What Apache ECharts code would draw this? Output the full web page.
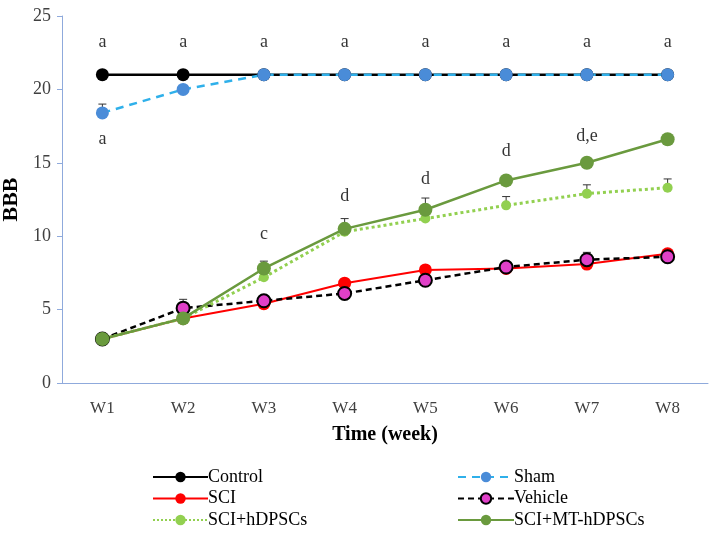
<!DOCTYPE html>
<html><head><meta charset="utf-8">
<script src="https://cdn.jsdelivr.net/npm/echarts@6/dist/echarts.min.js"></script>
<style>html,body{margin:0;padding:0;background:#fff}#c{width:712px;height:537px}</style>
</head><body><div id="c"></div>
<script>
const weeks = ['W1','W2','W3','W4','W5','W6','W7','W8'];
const control = [21,21,21,21,21,21,21,21];
const sham = [18.4,20.0,21,21,21,21,21,21];
const sci = [3,4.4,5.4,6.8,7.7,7.8,8.1,8.8];
const vehicle = [3,5.1,5.6,6.1,7.0,7.9,8.4,8.6];
const hdpsc = [3,4.4,7.2,10.3,11.2,12.1,12.9,13.3];
const mthdpsc = [3,4.4,7.8,10.5,11.8,13.8,15.0,16.6];
const shamErr = [0.6,0,0,0,0,0,0,0];
const sciErr = [0,0,0,0,0,0,0,0.3];
const vehicleErr = [0,0.6,0.3,0,0,0,0.5,0.3];
const hdpscErr = [0,0,0,0,0,0.6,0.6,0.6];
const mthdpscErr = [0,0,0.5,0.7,0.8,0,0,0];
const topLetters = ['a','a','a','a','a','a','a','a'];
const topLetterY = [23.2,23.2,23.2,23.2,23.2,23.2,23.2,23.2];
const shamLetter = ['a'];
const shamLetterY = [16.6];
const groupLetters = ['c','d','d','d','d,e'];
const groupLetterIdx = [2,3,4,5,6];
const groupLetterY = [10.1,12.7,13.9,15.8,16.8];

const serif = '"Liberation Serif","Times New Roman",serif';
const chart = echarts.init(document.getElementById('c'));

function errSeries(vals, errs, color){
  const data = [];
  vals.forEach((v,i)=>{ if(errs[i]>0) data.push([i, v, v+errs[i]]); });
  return {
    type:'custom', silent:true, z:1, data,
    renderItem:(params, api)=>{
      const p0 = api.coord([api.value(0), api.value(1)]);
      const p1 = api.coord([api.value(0), api.value(2)]);
      return {type:'group', children:[
        {type:'line', shape:{x1:p0[0],y1:p0[1],x2:p1[0],y2:p1[1]}, style:{stroke:color,lineWidth:1}},
        {type:'line', shape:{x1:p1[0]-4,y1:p1[1],x2:p1[0]+4,y2:p1[1]}, style:{stroke:color,lineWidth:1}}
      ]};
    }
  };
}

function lineS(name, data, color, type, markerColor, markerBorder, size, width){
  return {
    name, type:'line', data, symbol:'circle', symbolSize:size,
    lineStyle:{color, width, type},
    itemStyle:{color:markerColor, borderColor:markerBorder, borderWidth: markerBorder? 2:0},
    z:2
  };
}

const letterStyle = {show:true, position:'inside', color:'#000', fontFamily:serif, fontSize:18};
const legText = {fontFamily:serif, fontSize:18, lineHeight:20, color:'#000', padding:[0,0,0,-5]};

chart.setOption({
  animation:false,
  backgroundColor:'#fff',
  grid:{left:62, right:4, top:16, bottom:154, outerBoundsMode:'none', containLabel:false},
  xAxis:{
    type:'category', data:weeks, boundaryGap:true,
    axisLine:{lineStyle:{color:'#8faadc', width:1}},
    axisTick:{show:false},
    axisLabel:{color:'#404040', fontFamily:serif, fontSize:17, margin:17},
    name:'Time (week)', nameLocation:'middle', nameGap:42,
    nameTextStyle:{fontFamily:serif, fontWeight:'bold', fontSize:20, color:'#000'}
  },
  yAxis:{
    type:'value', min:0, max:25, interval:5,
    axisLine:{show:true, lineStyle:{color:'#8faadc', width:1}},
    axisTick:{show:true, length:5, lineStyle:{color:'#8faadc'}},
    splitLine:{show:false},
    axisLabel:{color:'#404040', fontFamily:serif, fontSize:18, margin:11},
    name:'BBB', nameLocation:'middle', nameGap:35, nameRotate:90,
    nameTextStyle:{fontFamily:serif, fontWeight:'bold', fontSize:22, color:'#000'}
  },
  legend:[
    {orient:'vertical', left:152, top:467, padding:0, itemGap:1.5, itemWidth:55, itemHeight:13,
     data:['Control','SCI','SCI+hDPSCs'], textStyle:legText},
    {orient:'vertical', left:457, top:467, padding:0, itemGap:1.5, itemWidth:56, itemHeight:13,
     data:['Sham','Vehicle','SCI+MT-hDPSCs'], textStyle:legText}
  ],
  series:[
    lineS('Control', control, '#000', 'solid', '#000', null, 13, 2.5),
    lineS('SCI', sci, '#ff0000', 'solid', '#ff0000', null, 13, 2),
    lineS('Vehicle', vehicle, '#000', [6,4], '#e040c8', '#000', 13, 2.5),
    lineS('SCI+hDPSCs', hdpsc, '#92d050', 'dotted', '#92d050', null, 10, 3),
    lineS('SCI+MT-hDPSCs', mthdpsc, '#6a9a3e', 'solid', '#6a9a3e', null, 14, 2.5),
    lineS('Sham', sham, '#2fb0ea', [8,6], '#4a8cd8', null, 13, 2.5),
    errSeries(sham, shamErr, '#333'),
    errSeries(sci, sciErr, '#333'),
    errSeries(vehicle, vehicleErr, '#333'),
    errSeries(hdpsc, hdpscErr, '#333'),
    errSeries(mthdpsc, mthdpscErr, '#333'),
    {type:'scatter', symbolSize:0, silent:true,
     data: topLetterY.map((y,i)=>({value:[i,y], label:Object.assign({}, letterStyle, {formatter:topLetters[i]})}))},
    {type:'scatter', symbolSize:0, silent:true,
     data: shamLetterY.map((y,i)=>({value:[i,y], label:Object.assign({}, letterStyle, {formatter:shamLetter[i]})}))},
    {type:'scatter', symbolSize:0, silent:true,
     data: groupLetterY.map((y,i)=>({value:[groupLetterIdx[i],y], label:Object.assign({}, letterStyle, {formatter:groupLetters[i]})}))}
  ]
});
</script></body></html>
